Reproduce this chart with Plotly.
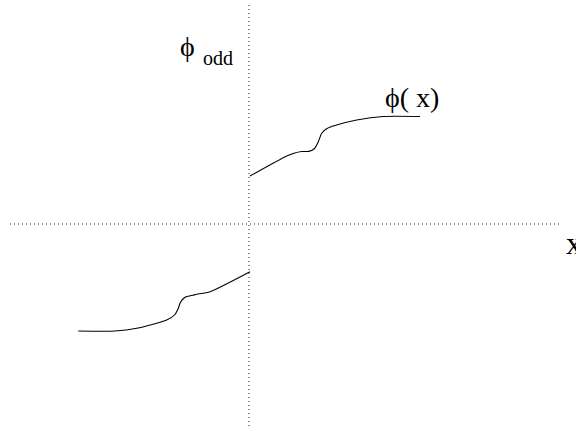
import plotly.graph_objects as go

# Upper branch of phi(x) (x > 0), in chart units (origin at axes crossing)
upper_x = [1, 37.7, 45, 52.7, 60, 65.5, 69.3, 72.7, 78, 87.7, 107.7, 134.3, 171]
upper_y = [48, 68, 70.8, 72.5, 72.6, 75.5, 82.3, 90.7, 95.5, 99, 104, 107.5, 107.5]
# Lower branch (x < 0)
lower_x = [-170.7, -134, -112.3, -82.3, -74, -70.7, -69, -66, -62.3, -56, -52.3, -39, 1]
lower_y = [-107, -107, -104.3, -96, -90.5, -84.3, -79.3, -75, -72.6, -71.2, -70.3, -67.7, -47.7]

# Dotted axes extents
haxis_x = [-239, 311]
haxis_y = [0, 0]
vaxis_x = [0, 0]
vaxis_y = [219, -204]

fig = go.Figure()
dot = dict(color="#222", width=1, dash="1px,3px")
fig.add_trace(go.Scatter(x=haxis_x, y=haxis_y, mode="lines", line=dot, hoverinfo="skip"))
fig.add_trace(go.Scatter(x=vaxis_x, y=vaxis_y, mode="lines", line=dot, hoverinfo="skip"))
curve = dict(color="black", width=1.1, shape="spline", smoothing=0.6)
fig.add_trace(go.Scatter(x=upper_x, y=upper_y, mode="lines", line=curve))
fig.add_trace(go.Scatter(x=lower_x, y=lower_y, mode="lines", line=curve))

serif = "Liberation Serif, DejaVu Serif, serif"
ann = [
    dict(x=-62, y=178, text="ϕ", font=dict(size=28, family=serif, color="black"),
         xanchor="center", yanchor="middle"),
    dict(x=-48, y=166, text="odd", font=dict(size=20, family=serif, color="black"),
         xanchor="left", yanchor="middle"),
    dict(x=163, y=127, text="ϕ( x)", font=dict(size=28, family=serif, color="black"),
         xanchor="center", yanchor="middle"),
    dict(x=315, y=-19, text="x", font=dict(size=32, family=serif, color="black"),
         xanchor="left", yanchor="middle"),
]
for a in ann:
    a.update(showarrow=False, xref="x", yref="y")

fig.update_layout(
    width=576, height=428,
    margin=dict(l=0, r=0, t=0, b=0),
    paper_bgcolor="white", plot_bgcolor="white",
    showlegend=False,
    annotations=ann,
    xaxis=dict(range=[-249, 327], visible=False, fixedrange=True),
    yaxis=dict(range=[-204, 224], visible=False, fixedrange=True),
)
fig.write_html("out.html", post_script="document.body.style.margin='0px';",
               config={"displayModeBar": False})
